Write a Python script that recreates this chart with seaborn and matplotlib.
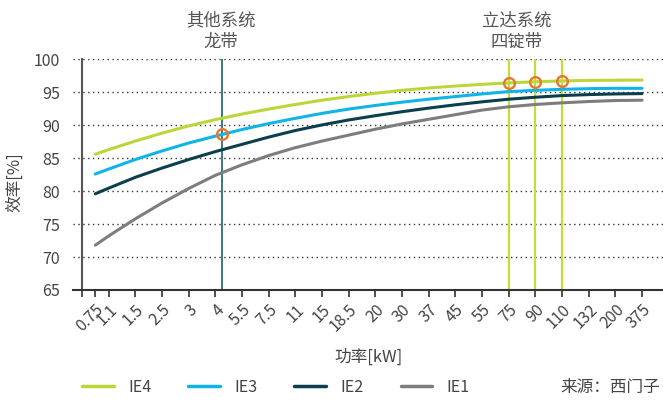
import numpy as np
import pandas as pd
import matplotlib
matplotlib.use("Agg")
import matplotlib.pyplot as plt
import matplotlib.transforms as mtransforms
from matplotlib.lines import Line2D
import seaborn as sns

# ---- data ----
powers = ["0.75", "1.1", "1.5", "2.5", "3", "4", "5.5", "7.5", "11", "15", "18.5",
          "20", "30", "37", "45", "55", "75", "90", "110", "132", "200", "375"]
ie4 = [85.6, 86.3, 87.6, 88.8, 89.9, 90.85, 91.7, 92.45, 93.15, 93.8, 94.35,
       94.85, 95.3, 95.65, 95.95, 96.2, 96.42, 96.6, 96.72, 96.8, 96.83, 96.85]
ie3 = [82.6, 83.35, 84.8, 86.1, 87.3, 88.35, 89.35, 90.25, 91.05, 91.8, 92.45,
       93.0, 93.5, 93.95, 94.35, 94.75, 95.1, 95.3, 95.45, 95.55, 95.6, 95.6]
ie2 = [79.6, 80.45, 82.1, 83.5, 84.8, 86.0, 87.1, 88.2, 89.2, 90.05, 90.8,
       91.45, 92.05, 92.6, 93.1, 93.55, 93.95, 94.25, 94.5, 94.65, 94.75, 94.8]
ie1 = [71.8, 73.2, 75.8, 78.2, 80.4, 82.4, 84.0, 85.4, 86.6, 87.6, 88.5,
       89.4, 90.2, 90.9, 91.6, 92.3, 92.8, 93.15, 93.4, 93.6, 93.75, 93.8]
classes = ["IE4", "IE3", "IE2", "IE1"]
colors = {"IE4": "#bcd63a", "IE3": "#10b4e6", "IE2": "#0c3f4d", "IE1": "#7d7d80"}
other_power = "4"          # 其他系统 龙带
other_class = "IE3"
rieter_powers = ["75", "90", "110"]   # 立达系统 四锭带
rieter_class = "IE4"

# category positions: first category sits half a step left
x_pos = np.arange(len(powers), dtype=float)
x_pos[0] = 0.5
series = {"IE4": ie4, "IE3": ie3, "IE2": ie2, "IE1": ie1}
df = pd.concat([pd.DataFrame({"pos": x_pos, "eff": v, "cls": k}) for k, v in series.items()])

sns.set_theme(style="white")
plt.rcParams["font.family"] = ["Noto Sans CJK SC", "DejaVu Sans"]

W, H = 663, 401
fig = plt.figure(figsize=(W / 100, H / 100), dpi=100)
ax = fig.add_axes([73 / W, 1 - 290 / H, 1 - 73 / W, (290 - 59) / H])

sns.lineplot(data=df, x="pos", y="eff", hue="cls", hue_order=classes, palette=colors,
             lw=2.2, ax=ax, legend=False, sort=False, zorder=3)

ax.set_xlim(-0.3375, 21.785)
ax.set_ylim(65, 100.05)

# spines
for s in ["top", "right"]:
    ax.spines[s].set_visible(False)
ax.spines["left"].set_position(("data", 0))
ax.spines["left"].set_color("#555555")
ax.spines["left"].set_linewidth(1.5)
ax.spines["bottom"].set_color("#333333")
ax.spines["bottom"].set_linewidth(1.5)

# ticks
ax.set_xticks(x_pos)
ax.set_xticklabels(powers)
ax.set_xticks([0], minor=True)
ax.tick_params(axis="x", which="both", direction="out", length=5, width=1.2,
               color="#333333", labelcolor="#444444", labelsize=11.5, pad=3, bottom=True)
for lbl in ax.get_xticklabels():
    lbl.set_rotation(45)
    lbl.set_ha("right")
    lbl.set_va("top")
    lbl.set_rotation_mode("anchor")

ax.set_yticks(np.arange(65, 101, 5))
ax.tick_params(axis="y", length=0, labelcolor="#444444", labelsize=11.5, pad=16, left=False)
ax.grid(axis="y", linestyle=(0, (1, 2.5)), color="#333333", lw=1)
ax.grid(axis="x", visible=False)
ax.set_xlabel("")
ax.set_ylabel("")

# highlight lines
i4 = powers.index(other_power)
x_other = x_pos[i4] + 0.25
ax.axvline(x_other, color="#2b6c79", lw=1.3, zorder=2)
y_other = np.interp(x_other, x_pos, series[other_class])
rx = [x_pos[powers.index(p)] for p in rieter_powers]
for xv in rx:
    ax.axvline(xv, color="#c5dc3a", lw=1.6, zorder=2)
ry = [series[rieter_class][powers.index(p)] for p in rieter_powers]
ax.plot([x_other] + rx, [y_other] + ry, "o", ms=7.7, mfc="none", mec="#e8762b",
        mew=1.7, zorder=6, clip_on=False)

# top annotations
tr = mtransforms.blended_transform_factory(ax.transData, fig.transFigure)
ax.text(x_other - 0.05, 1 - 31 / H, "其他系统\n龙带", transform=tr, ha="center", va="center",
        fontsize=12.5, color="#555555", linespacing=1.25)
ax.text(rx[0] + 0.3, 1 - 31 / H, "立达系统\n四锭带", transform=tr, ha="center", va="center",
        fontsize=12.5, color="#555555", linespacing=1.25)

# axis labels
fig.text(15 / W, 1 - 182 / H, "效率[%]", rotation=90, ha="center", va="center",
         fontsize=12, color="#444444")
fig.text(368 / W, 1 - 357 / H, "功率[kW]", ha="center", va="center",
         fontsize=12, color="#444444")

# legend
handles = [Line2D([0], [0], color=colors[c], lw=2.5) for c in classes]
fig.legend(handles, classes, loc="center left", bbox_to_anchor=(82 / W, 1 - 387 / H),
           ncol=4, frameon=False, handlelength=2.0, handletextpad=0.9,
           columnspacing=2.3, fontsize=11.5, borderaxespad=0, borderpad=0,
           labelcolor="#444444")
fig.text(660 / W, 1 - 387 / H, "来源：西门子", ha="right", va="center",
         fontsize=12, color="#444444")

fig.savefig("out.png", dpi=100)
